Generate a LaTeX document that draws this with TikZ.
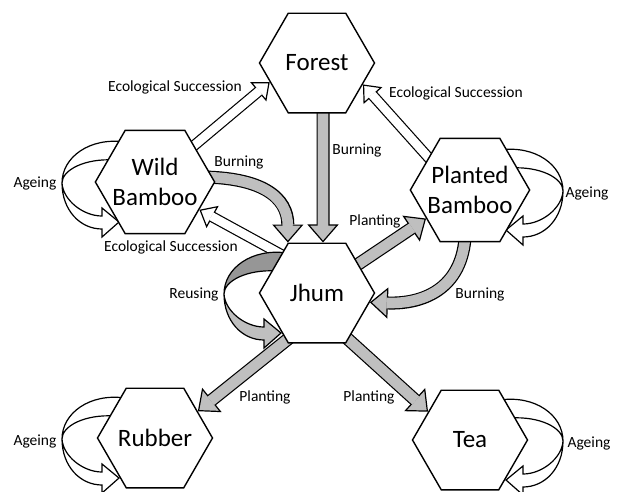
\documentclass[tikz,border=0pt]{standalone}
\usepackage{fontspec}
\setmainfont{Carlito}
\usetikzlibrary{arrows.meta,shapes.geometric}
\pgfdeclarelayer{background}
\pgfsetlayers{background,main}
\definecolor{grayfill}{RGB}{191,191,191}
\definecolor{graydark}{RGB}{150,150,150}
% crescent loop on the left side of a node (#2=-1 mirrors it to the right)
\newcommand{\turnloop}[4]{%
  \begin{scope}[shift={(#1.center)}, xscale=#2, line width=1.2pt]
    \filldraw[fill=#3] (-30,-40) .. controls (-65,-45) and (-93,-25) .. (-93,1)
      .. controls (-93,-12) and (-70,-24) .. (-40,-22) -- cycle;
    \filldraw[fill=#4] (-93,1) .. controls (-93,28) and (-75,47) .. (-53,47)
      -- (-53,55) -- (-36,40) -- (-53,26) -- (-53,34)
      .. controls (-72,34) and (-92,18) .. (-93,1) -- cycle;
  \end{scope}}

\begin{document}
\begin{tikzpicture}[x=1pt, y=-1pt,
    hexa/.style={draw, line width=1.4pt, fill=white, regular polygon, regular polygon sides=6,
      minimum size=115pt, inner sep=-6pt, align=center, font=\fontsize{25}{30}\selectfont},
    lbl/.style={font=\fontsize{15.5}{18}\selectfont, inner sep=0pt},
    fat/.style={line width=13pt, shorten <=-14pt,
      -{Triangle[length=18pt, width=31pt, fill=#1, line width=1.2pt]},
      postaction={draw=#1, line width=10.6pt, arrows=-, shorten <=-14pt, shorten >=16.5pt}},
    slim/.style={line width=11pt, shorten <=-14pt,
      -{Triangle[length=15pt, width=25pt, fill=#1, line width=1.2pt]},
      postaction={draw=#1, line width=8.6pt, arrows=-, shorten <=-14pt, shorten >=13.5pt}}]
  \useasboundingbox (0,0) rectangle (619,491);

  \node [hexa] (forest) at (317,63) {Forest};
  \node [hexa] (wild) at (155,182) {Wild\\Bamboo};
  \node [hexa] (planted) at (470,190) {Planted\\Bamboo};
  \node [hexa] (jhum) at (317,293) {Jhum};
  \node [hexa] (rubber) at (155,438) {Rubber};
  \node [hexa] (tea) at (470,440) {Tea};

  \begin{pgfonlayer}{background}
    \draw [slim=white] (wild.43) -- (forest.202);
    \draw [slim=white] (planted.142) -- (forest.-25);
    \draw [slim=white] (jhum.133) -- (wild.-32);
    \draw [fat=grayfill] ([xshift=6pt]forest.south) -- ([xshift=6pt]jhum.north);
    \draw [fat=grayfill] (jhum.35) -- (planted.213);
    \draw [fat=grayfill] (jhum.237) -- (rubber.32);
    \draw [fat=grayfill] (jhum.-56) -- (tea.146);
    \draw [fat=grayfill] (wild.5) .. controls +(50,0) and +(0,-45) .. (jhum.120);
    \draw [fat=grayfill] (planted.265) .. controls +(0,45) and +(55,2) .. (jhum.-10);
    \turnloop{wild}{1}{white}{white}
    \turnloop{rubber}{1}{white}{white}
    \turnloop{planted}{-1}{white}{white}
    \turnloop{tea}{-1}{white}{white}
    \turnloop{jhum}{1}{graydark}{grayfill}
  \end{pgfonlayer}

  \node [lbl] (succwild) at (175,87) {Ecological Succession};
  \node [lbl] (succplanted) at (456,93) {Ecological Succession};
  \node [lbl] (succjhum) at (171,247) {Ecological Succession};
  \node [lbl] (burnwild) at (239,162) {Burning};
  \node [lbl] (burnforest) at (357,150) {Burning};
  \node [lbl] (burnplanted) at (480,294) {Burning};
  \node [lbl] (plantplanted) at (375,221) {Planting};
  \node [lbl] (plantrubber) at (265,397) {Planting};
  \node [lbl] (planttea) at (369,397) {Planting};
  \node [lbl] (reuse) at (194,294) {Reusing};
  \node [lbl] (agewild) at (35,183) {Ageing};
  \node [lbl] (agerubber) at (35,441) {Ageing};
  \node [lbl] (ageplanted) at (587,193) {Ageing};
  \node [lbl] (agetea) at (589,443) {Ageing};
\end{tikzpicture}
\end{document}
